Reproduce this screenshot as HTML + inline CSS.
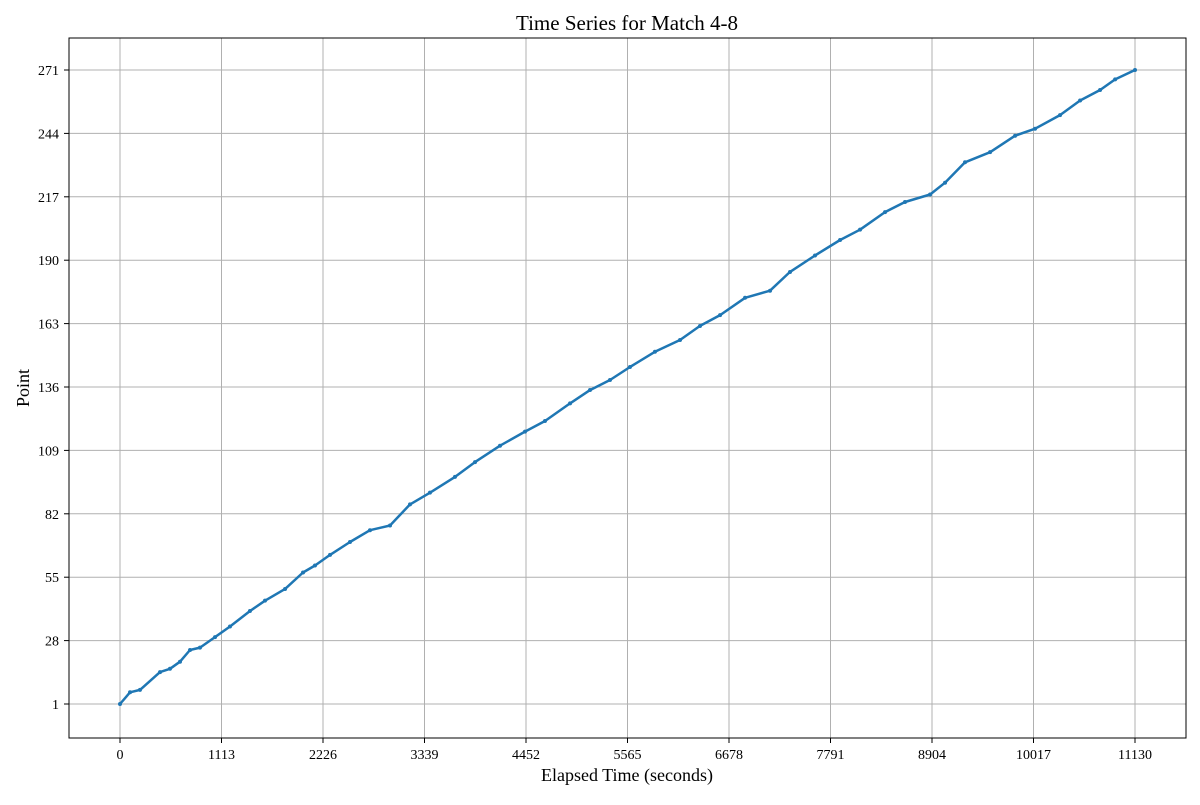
<!DOCTYPE html>
<html><head><meta charset="utf-8"><style>
body{margin:0;background:#fff;}
svg text{font-family:"Liberation Serif",serif;fill:#000;}
</style></head><body>
<svg id="chart" width="1200" height="800" xmlns="http://www.w3.org/2000/svg">
<rect width="1200" height="800" fill="#fff"/>
<g id="grid"></g>
<g id="axes"></g>
<g id="series"></g>
<rect x="69" y="38" width="1117" height="700" fill="none" stroke="#000" stroke-width="1"/>
<text x="627" y="30" font-size="21" text-anchor="middle">Time Series for Match 4-8</text>
<text x="627" y="781" font-size="18" text-anchor="middle">Elapsed Time (seconds)</text>
<text x="29" y="388" font-size="18" text-anchor="middle" transform="rotate(-90 29 388)">Point</text>
</svg>
<script>
const xTicks=[0,1113,2226,3339,4452,5565,6678,7791,8904,10017,11130];
const yTicks=[1,28,55,82,109,136,163,190,217,244,271];
const times=[0,110,219,439,548,658,768,877,1042,1206,1425,1590,1810,2007,2138,2303,2522,2741,2961,3180,3399,3673,3893,4167,4441,4660,4935,5154,5373,5592,5866,6141,6360,6580,6854,7128,7347,7621,7896,8115,8389,8608,8883,9047,9266,9541,9815,10034,10308,10528,10747,10912,11130];
const points=[1,6,7,14.6,16,19,24,25,29.5,34,40.6,45,50,57,60,64.5,70,75,77,86,91,97.7,104,111,117,121.5,129,134.7,139,144.5,151,156,162,166.6,174,177,185,192,198.6,203,210.5,214.8,218,223,231.7,236,243,246,251.8,258,262.5,267,271];
const X=v=>120+(v/11130)*1015;
const Y=v=>704-(v-1)/270*634;
const NS="http://www.w3.org/2000/svg";
const grid=document.getElementById('grid'),axes=document.getElementById('axes'),series=document.getElementById('series');
function mk(t,a,p){const e=document.createElementNS(NS,t);for(const k in a)e.setAttribute(k,a[k]);p.appendChild(e);return e;}
xTicks.forEach(v=>{const x=X(v);
 const g=mk('line',{x1:x,x2:x,y1:38,y2:738,stroke:'#b0b0b0','stroke-width':1},grid);
 
 const t=mk('line',{x1:x,x2:x,y1:738,y2:743,stroke:'#000'},axes);
 
 const l=mk('text',{x:x,y:759,'font-size':14,'text-anchor':'middle'},axes);l.textContent=v;
 });
yTicks.forEach(v=>{const y=Y(v);
 const g=mk('line',{x1:69,x2:1186,y1:y,y2:y,stroke:'#b0b0b0','stroke-width':1},grid);
 
 const t=mk('line',{x1:64,x2:69,y1:y,y2:y,stroke:'#000'},axes);
 
 const l=mk('text',{x:59,y:y+5,'font-size':14,'text-anchor':'end'},axes);l.textContent=v;
 });
const d=times.map((t,i)=>(i?'L':'M')+X(t).toFixed(1)+' '+Y(points[i]).toFixed(1)).join(' ');
const p=mk('path',{d:d,fill:'none',stroke:'#1f77b4','stroke-width':2.5,'stroke-linejoin':'round'},series);

times.forEach((t,i)=>{const c=mk('circle',{cx:X(t),cy:Y(points[i]),r:2,fill:'#1f77b4'},series);
 });
</script>
</body></html>
